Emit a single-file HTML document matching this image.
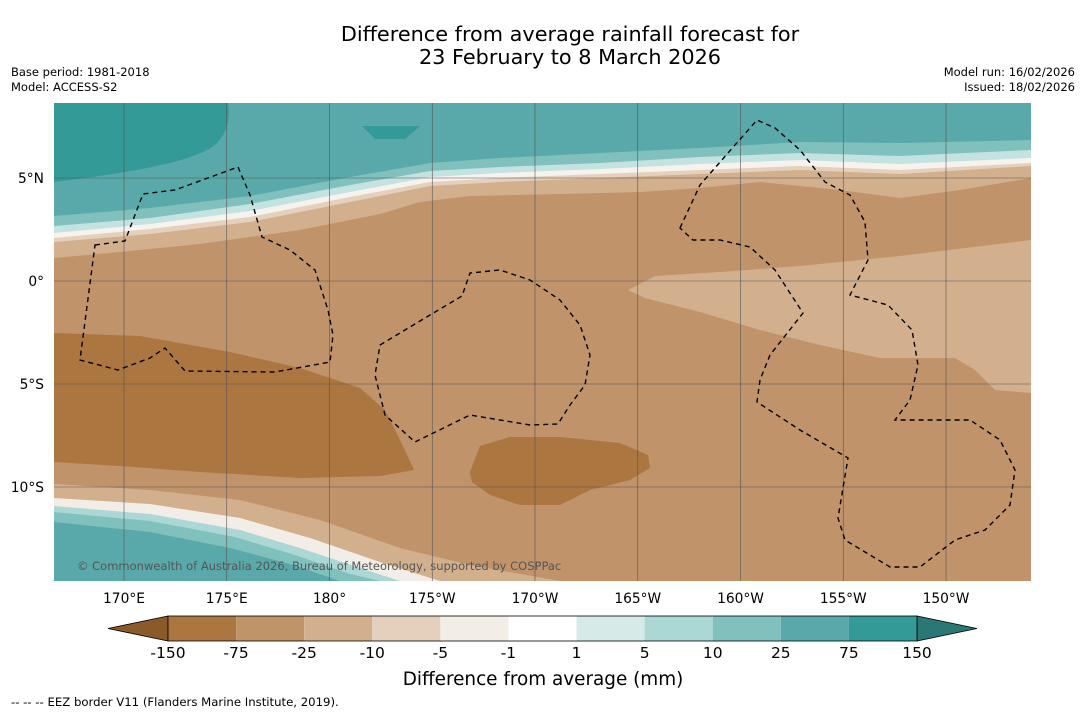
<!DOCTYPE html>
<html><head><meta charset="utf-8"><style>
body{margin:0;background:#fff;font-family:"DejaVu Sans",sans-serif;}
svg{display:block}
</style></head><body>
<svg id="s" width="1085" height="713" xmlns="http://www.w3.org/2000/svg" font-family="DejaVu Sans, Liberation Sans, sans-serif">
<text x="570" y="41" font-size="20.8" text-anchor="middle">Difference from average rainfall forecast for</text>
<text x="570" y="64" font-size="20.8" text-anchor="middle">23 February to 8 March 2026</text>
<text x="11" y="76" font-size="11.5">Base period: 1981-2018</text>
<text x="11" y="91" font-size="11.5">Model: ACCESS-S2</text>
<text x="1075" y="76" font-size="11.5" text-anchor="end">Model run: 16/02/2026</text>
<text x="1075" y="91" font-size="11.5" text-anchor="end">Issued: 18/02/2026</text>
<defs><clipPath id="mc"><rect x="54" y="103" width="977" height="478"/></clipPath></defs>
<g clip-path="url(#mc)">
<rect x="54" y="103" width="977" height="478" fill="#c0936a"/>
<path fill="#d2b08e" d="M54,103 L1031,103 L1031,178 L960,190 L900,198 L840,190 L760,182 L700,188 L640,192 L560,194 L470,196 L420,202 L380,214 L300,230 L200,244 L120,252 L54,258 Z"/>
<path fill="#e4d0bc" d="M54,103 L1031,103 L1031,166 L900,174 L800,170 L700,174 L600,178 L500,182 L430,186 L350,202 L250,222 L150,234 L54,242 Z"/>
<path fill="#f6f2ee" d="M54,103 L1031,103 L1031,163 L900,170 L800,166 L700,170 L600,174 L500,178 L430,182 L350,197 L250,217 L150,229 L54,238 Z"/>
<path fill="#c4e2df" d="M54,103 L1031,103 L1031,158 L900,164 L800,160 L700,164 L600,169 L500,173 L430,177 L350,192 L250,211 L150,224 L54,233 Z"/>
<path fill="#80c0bd" d="M54,103 L1031,103 L1031,150 L900,156 L800,153 L700,157 L600,163 L500,167 L430,171 L350,185 L250,204 L150,218 L54,226 Z"/>
<path fill="#5aa9aa" d="M54,103 L1031,103 L1031,140 L900,143 L800,142 L700,148 L600,153 L500,158 L430,163 L350,177 L250,196 L150,208 L54,216 Z"/>
<path fill="#339a98" d="M54,103 L228,103 C230,120 228,132 215,145 C195,160 150,170 54,182 Z M362,126 L420,126 L405,139 L375,139 Z"/>
<path fill="#d2b08e" d="M628,290 L655,276 L720,272 L800,266 L900,256 L1031,240 L1031,393 L995,390 L975,370 L955,358 L880,358 L820,345 L760,330 L700,312 L645,298 Z"/>
<path fill="#ab7640" d="M54,333 L140,336 L230,352 L300,368 L360,388 L385,410 L400,440 L414,470 L380,476 L300,478 L200,472 L120,466 L54,462 Z"/>
<path fill="#ab7640" d="M470,472 L480,446 L510,437 L560,437 L620,443 L648,455 L650,468 L630,480 L590,490 L560,505 L520,505 L490,495 L472,482 Z"/>
<path fill="#d2b08e" d="M54,484 L150,490 L240,500 L320,520 L400,548 L470,565 L560,581 L54,581 Z"/>
<path fill="#f3ede7" d="M54,498 L150,504 L240,518 L310,538 L380,562 L440,581 L54,581 Z"/>
<path fill="#abd7d4" d="M54,506 L150,514 L240,530 L300,548 L360,568 L400,581 L54,581 Z"/>
<path fill="#80c0bd" d="M54,512 L150,521 L235,537 L295,555 L350,574 L380,581 L54,581 Z"/>
<path fill="#5aa9aa" d="M54,522 L150,532 L230,548 L290,564 L340,581 L54,581 Z"/>
<g id="grid"></g>
<path fill="none" stroke="#000" stroke-width="1.4" stroke-dasharray="5,4" d="M95,245 L125,241 L143,194 L175,190 L238,167 L250,195 L262,237 L290,250 L315,270 L328,310 L333,335 L330,362 L275,372 L185,371 L165,348 L150,358 L118,370 L80,360 Z"/>
<path fill="none" stroke="#000" stroke-width="1.4" stroke-dasharray="5,4" d="M380,345 L430,315 L462,296 L470,273 L500,270 L530,280 L560,300 L580,325 L590,355 L585,385 L570,405 L558,424 L530,425 L470,415 L415,442 L385,415 L375,375 Z"/>
<path fill="none" stroke="#000" stroke-width="1.4" stroke-dasharray="5,4" d="M680,228 L700,185 L735,145 L757,120 L775,128 L800,150 L825,182 L850,195 L865,222 L868,260 L850,295 L888,305 L912,330 L918,365 L910,400 L895,420 L915,420 L970,420 L1000,440 L1015,470 L1010,505 L985,530 L955,540 L920,567 L890,567 L845,540 L838,518 L848,458 L800,430 L757,402 L760,380 L770,355 L803,313 L775,270 L750,247 L720,240 L693,240 Z"/>
<text x="77" y="570" font-size="11.5" fill="#555">© Commonwealth of Australia 2026, Bureau of Meteorology, supported by COSPPac</text>
</g>
<g id="axes"></g>
<g id="cbar"></g>
<text x="543" y="685" font-size="18.4" text-anchor="middle">Difference from average (mm)</text>
<text x="11" y="706" font-size="11.7">--  --  -- EEZ border V11 (Flanders Marine Institute, 2019).</text>
</svg>
<script>
const lonLabels=["170°E","175°E","180°","175°W","170°W","165°W","160°W","155°W","150°W"];
const lonValues=[170,175,180,185,190,195,200,205,210];
const latLabels=["5°N","0°","5°S","10°S"];
const latValues=[5,0,-5,-10];
const cbLabels=["-150","-75","-25","-10","-5","-1","1","5","10","25","75","150"];
const cbColors=["#ab7640","#bf9468","#d2b08e","#e4d0bc","#f3ede7","#ffffff","#d6eae8","#abd7d4","#80c0bd","#5aa9aa","#339a98"];
const extColors=["#8a5a2b","#2b7775"];
const NS="http://www.w3.org/2000/svg";
const xLon=v=>124+(v-170)*20.55;
const yLat=v=>281-v*20.6;
function mk(t,a,p){const e=document.createElementNS(NS,t);for(const k in a)e.setAttribute(k,a[k]);p.appendChild(e);return e;}
const grid=document.getElementById('grid'),axes=document.getElementById('axes');
lonValues.forEach((v,i)=>{
 const l=mk('line',{x1:xLon(v),x2:xLon(v),y1:103,y2:581,stroke:'#555','stroke-width':0.6},grid);
 
 
 const t=mk('text',{x:xLon(v),y:603,'font-size':13.8,'text-anchor':'middle'},axes);t.textContent=lonLabels[i];
 
 
});
latValues.forEach((v,i)=>{
 const l=mk('line',{x1:54,x2:1031,y1:yLat(v),y2:yLat(v),stroke:'#555','stroke-width':0.6},grid);
 
 
 const t=mk('text',{x:44,y:yLat(v)+5,'font-size':13.8,'text-anchor':'end'},axes);t.textContent=latLabels[i];
 
 
});
const cb=document.getElementById('cbar');
const x0=168,x1=917,y0=616,h=25,w=(x1-x0)/cbColors.length;
const lt=mk('polygon',{points:`${x0},${y0} ${x0},${y0+h} 108,${y0+h/2}`,fill:extColors[0],stroke:'#000','stroke-width':0.8},cb);


const rt=mk('polygon',{points:`${x1},${y0} ${x1},${y0+h} 977,${y0+h/2}`,fill:extColors[1],stroke:'#000','stroke-width':0.8},cb);


cbColors.forEach((c,i)=>{
 const r=mk('rect',{x:x0+i*w,y:y0,width:w,height:h,fill:c},cb);
 
 
});
mk('rect',{x:x0,y:y0,width:x1-x0,height:h,fill:'none',stroke:'#000','stroke-width':0.8},cb);
cbLabels.forEach((s,i)=>{
 const t=mk('text',{x:x0+i*w,y:658,'font-size':15.5,'text-anchor':'middle'},cb);t.textContent=s;
 
 
});
</script>
</body></html>
